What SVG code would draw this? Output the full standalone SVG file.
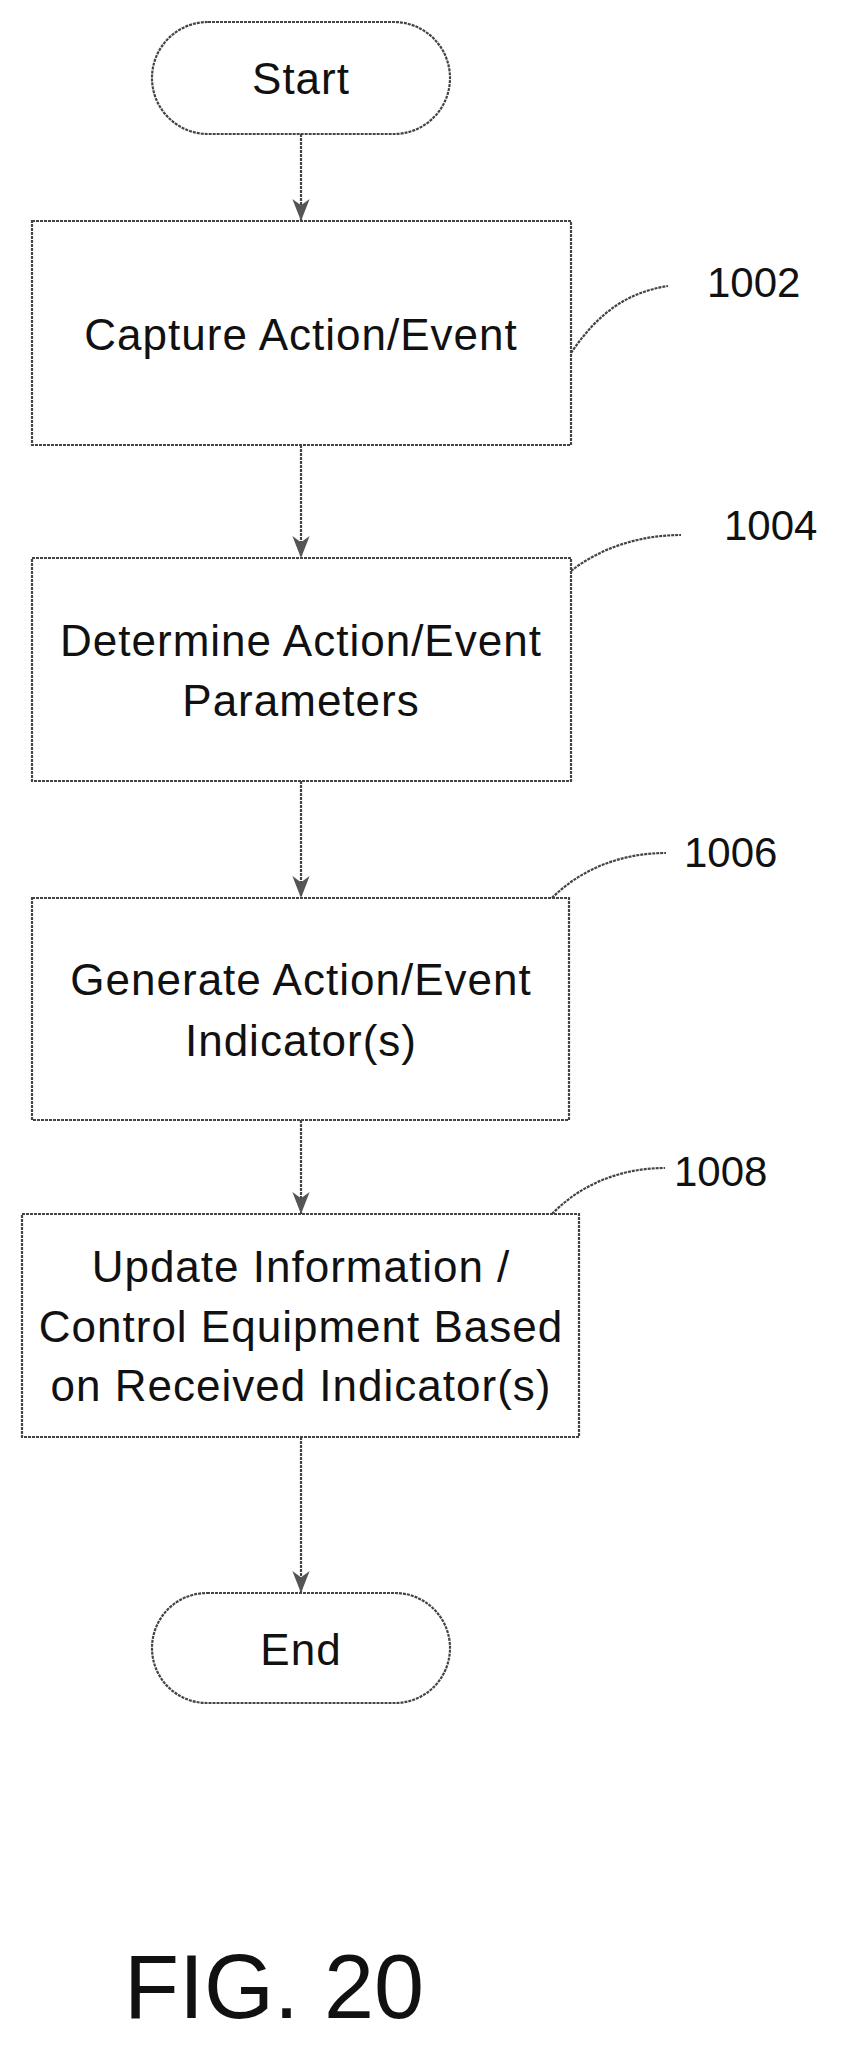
<svg xmlns="http://www.w3.org/2000/svg" width="854" height="2059" viewBox="0 0 854 2059">
<style>
.s{fill:#fff;stroke:#444;stroke-width:2.2;stroke-dasharray:3 1}
.t{font-family:"Liberation Sans",Arial,sans-serif;font-size:44px;letter-spacing:1px;fill:#111;text-anchor:middle}
.n{font-family:"Liberation Sans",Arial,sans-serif;font-size:42px;fill:#111}
.c{fill:none;stroke:#444;stroke-width:2.2;stroke-dasharray:3 1}
</style>
<defs>
<marker id="h" markerWidth="22" markerHeight="24" refX="28" refY="11" orient="auto" markerUnits="userSpaceOnUse" viewBox="0 0 28 22">
<path d="M0,0 L8,11 L0,22 L28,11 Z" fill="#555"/>
</marker>
</defs>
<rect width="854" height="2059" fill="#fff"/>
<g id="connectors">
<line class="c" x1="301" y1="134" x2="301" y2="221" marker-end="url(#h)"/>
<line class="c" x1="301" y1="445" x2="301" y2="558" marker-end="url(#h)"/>
<line class="c" x1="301" y1="781" x2="301" y2="898" marker-end="url(#h)"/>
<line class="c" x1="301" y1="1120" x2="301" y2="1214" marker-end="url(#h)"/>
<line class="c" x1="301" y1="1437" x2="301" y2="1593" marker-end="url(#h)"/>
<path class="c" d="M571,353 C600,310 630,292 668,286"/>
<path class="c" d="M571,571 C600,548 640,535 681,535"/>
<path class="c" d="M552,898 C580,870 620,853 666,853"/>
<path class="c" d="M552,1214 C580,1185 620,1168 665,1168"/>
</g>
<g id="start"><rect class="s" x="152" y="22" width="298" height="112" rx="56"/><text class="t" x="301" y="94">Start</text></g>
<g id="n1002"><rect class="s" x="32" y="221" width="539" height="224"/><text class="t" x="301" y="350">Capture Action/Event</text></g>
<g id="n1004"><rect class="s" x="32" y="558" width="539" height="223"/><text class="t" x="301" y="656">Determine Action/Event</text><text class="t" x="301" y="716">Parameters</text></g>
<g id="n1006"><rect class="s" x="32" y="898" width="537" height="222"/><text class="t" x="301" y="995">Generate Action/Event</text><text class="t" x="301" y="1056">Indicator(s)</text></g>
<g id="n1008"><rect class="s" x="22" y="1214" width="557" height="223"/><text class="t" x="301" y="1282">Update Information /</text><text class="t" x="301" y="1342">Control Equipment Based</text><text class="t" x="301" y="1401">on Received Indicator(s)</text></g>
<g id="end"><rect class="s" x="152" y="1593" width="298" height="110" rx="55"/><text class="t" x="301" y="1665">End</text></g>
<g id="labels">
<text class="n" x="707" y="297">1002</text>
<text class="n" x="724" y="540">1004</text>
<text class="n" x="684" y="867">1006</text>
<text class="n" x="674" y="1186">1008</text>
<text class="t" x="274" y="2018" style="font-size:90px;letter-spacing:0">FIG. 20</text>
</g>
</svg>
